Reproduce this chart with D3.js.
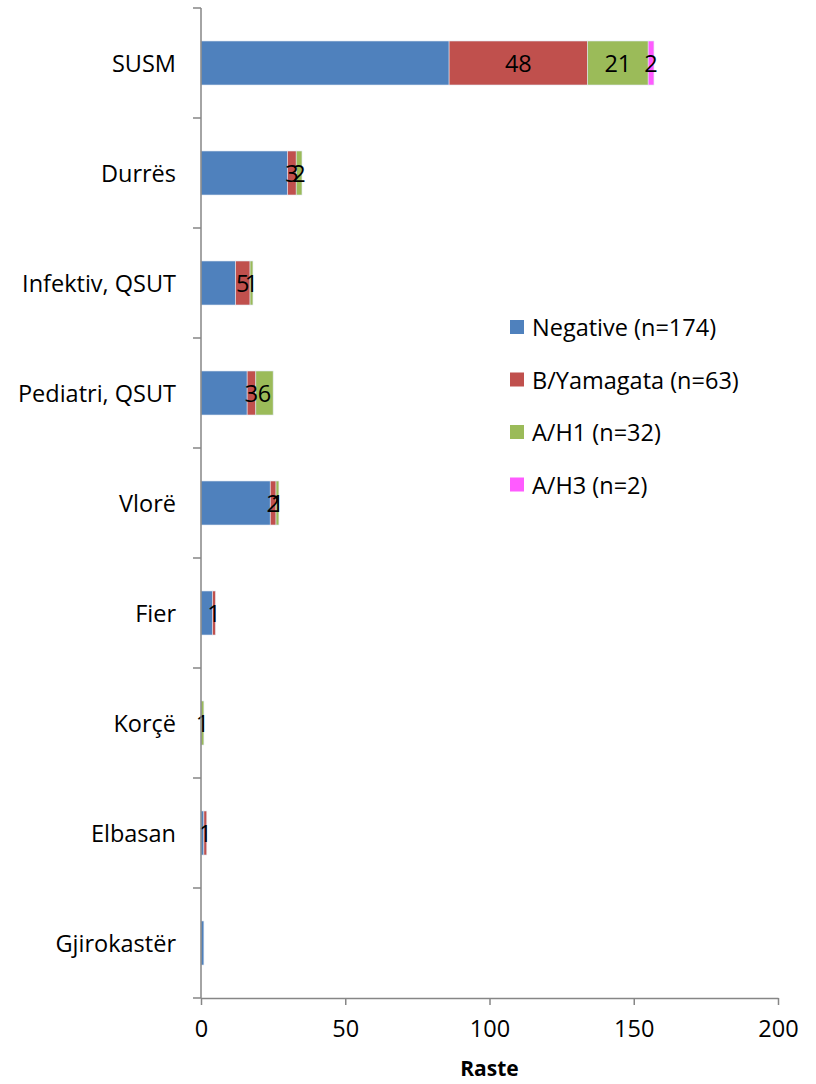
<!DOCTYPE html>
<html><head><meta charset="utf-8">
<script src="https://cdn.jsdelivr.net/npm/d3@7"></script>
<style>body{margin:0;background:#fff}svg{display:block}text{font-family:"Open Sans",sans-serif}</style>
</head><body>
<svg id="c" width="816" height="1084"></svg>
<script>
const categories = ["SUSM","Durrës","Infektiv, QSUT","Pediatri, QSUT","Vlorë","Fier","Korçë","Elbasan","Gjirokastër"];
const seriesNames = ["Negative (n=174)","B/Yamagata (n=63)","A/H1 (n=32)","A/H3 (n=2)"];
const seriesColors = ["#4F81BD","#C0504D","#9BBB59","#FF5BFF"];
const negative  = [86,30,12,16,24,4,0,1,1];
const yamagata  = [48,3,5,3,2,1,0,1,0];
const ah1       = [21,2,1,6,1,0,1,0,0];
const ah3       = [2,0,0,0,0,0,0,0,0];
const xTicks = [0,50,100,150,200];
const showLabels = [false,true,true,true];

const svg = d3.select("#c");
const x = d3.scaleLinear().domain([0,200]).range([201,778]);
const y = d3.scaleBand().domain(categories).range([8,998]).paddingInner(0.6).paddingOuter(0.3);
const yb = d3.scaleBand().domain(categories).range([8,998]);
const fs = 23.5;

const rows = categories.map((c,i)=>({cat:c, v:[negative[i],yamagata[i],ah1[i],ah3[i]]}));
const keys = [0,1,2,3];
const stack = d3.stack().keys(keys).value((d,k)=>d.v[k])(rows);

stack.forEach((layer,si)=>{
  svg.append("g").selectAll("rect").data(layer.filter(d=>d[1]>d[0])).join("rect")
    .attr("x",d=>x(d[0])).attr("width",d=>x(d[1])-x(d[0]))
    .attr("y",d=>y(d.data.cat)).attr("height",y.bandwidth())
    .attr("fill",seriesColors[si]).attr("stroke","#dfe6f0").attr("stroke-width",0.6);
});
stack.forEach((layer,si)=>{
  if(!showLabels[si]) return;
  svg.append("g").selectAll("text").data(layer.filter(d=>d[1]>d[0])).join("text")
    .attr("x",d=>x((d[0]+d[1])/2)).attr("y",d=>y(d.data.cat)+y.bandwidth()/2)
    .attr("text-anchor","middle").attr("dominant-baseline","central")
    .attr("font-size",fs).attr("fill","#000").text(d=>d.data.v[si]);
});

// axes
const axCol = "#868686";
const gx = svg.append("g").attr("transform","translate(0,998)")
  .call(d3.axisBottom(x).tickValues(xTicks).tickSize(7).tickPadding(15).tickSizeOuter(0));
gx.select(".domain").attr("stroke",axCol).attr("stroke-width",1.5);
gx.selectAll(".tick line").attr("stroke",axCol).attr("stroke-width",1.5);
gx.selectAll(".tick text").attr("font-size",fs).attr("fill","#000").attr("font-family","Open Sans");

const gy = svg.append("g").attr("transform","translate(201,0)");
gy.append("line").attr("x1",0).attr("x2",0).attr("y1",8).attr("y2",998).attr("stroke",axCol).attr("stroke-width",1.5);
const bounds = categories.map(c=>yb(c)).concat([998]);
gy.selectAll("line.t").data(bounds).join("line").attr("class","t")
  .attr("x1",-8).attr("x2",0).attr("y1",d=>d).attr("y2",d=>d).attr("stroke",axCol).attr("stroke-width",1.5);
gy.selectAll("text").data(categories).join("text")
  .attr("x",-25).attr("y",d=>yb(d)+yb.bandwidth()/2).attr("text-anchor","end")
  .attr("dominant-baseline","central").attr("font-size",fs).attr("fill","#000").text(d=>d);

svg.append("text").attr("x",(x(0)+x(200))/2).attr("y",1068).attr("text-anchor","middle")
  .attr("dominant-baseline","central").attr("font-size",21).attr("font-weight","bold").text("Raste");

// legend
const lg = svg.append("g");
seriesNames.forEach((n,i)=>{
  const yy = 327 + i*52.5;
  lg.append("rect").attr("x",510).attr("y",yy-7).attr("width",14).attr("height",14).attr("fill",seriesColors[i]);
  lg.append("text").attr("x",532).attr("y",yy).attr("dominant-baseline","central").attr("font-size",fs).text(n);
});
</script>
</body></html>
